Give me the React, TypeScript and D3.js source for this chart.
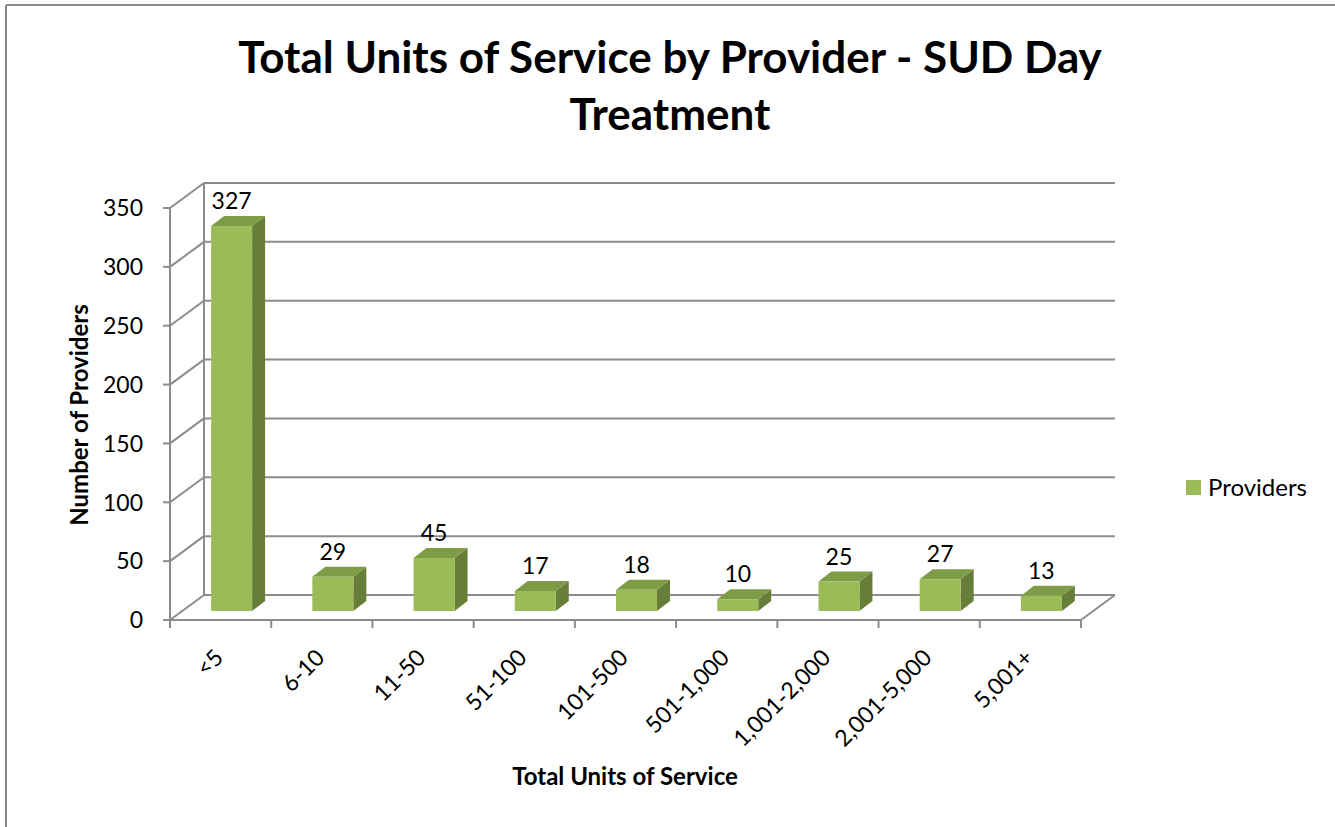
import React from "react";
import * as d3 from "d3";

// data
const categories = [
  "<5",
  "6-10",
  "11-50",
  "51-100",
  "101-500",
  "501-1,000",
  "1,001-2,000",
  "2,001-5,000",
  "5,001+",
];
const providers = [327, 29, 45, 17, 18, 10, 25, 27, 13];
const yTicks = [0, 50, 100, 150, 200, 250, 300, 350];

const W = 1335;
const H = 827;
const FONT = "Lato, 'Open Sans', sans-serif";

// 3d wall depth and bar depth
const wall = { dx: 34, dy: -25 };
const barFront = { dx: 11, dy: -9 };
const barDepth = { dx: 13, dy: -10 };

const GRID = "#8c8c8c";

const App = () => {
  const x = d3.scaleBand<string>().domain(categories).range([170, 1081]);
  const y = d3.scaleLinear().domain([0, 350]).range([620, 208]);
  const bw = x.bandwidth() * 0.405;
  const x0 = x.range()[0];
  const x1 = x.range()[1];

  return (
    <svg
      width={W}
      height={H}
      style={{ position: "absolute", left: 0, top: 0, background: "#fff" }}
      fontFamily={FONT}
    >
      {/* frame */}
      <line x1={6} y1={5} x2={W} y2={5} stroke="#888" strokeWidth={2} />
      <line x1={6} y1={5} x2={6} y2={H} stroke="#888" strokeWidth={2} />

      {/* title */}
      <text x={670} y={73} textAnchor="middle" fontWeight="bold" fontSize={44}>
        Total Units of Service by Provider - SUD Day
      </text>
      <text x={670} y={130} textAnchor="middle" fontWeight="bold" fontSize={44}>
        Treatment
      </text>

      {/* back wall gridlines and side wall diagonals */}
      <g stroke={GRID} strokeWidth={2} fill="none">
        {yTicks.map((t) => (
          <g key={t}>
            <line
              x1={x0 + wall.dx}
              y1={y(t) + wall.dy}
              x2={x1 + wall.dx}
              y2={y(t) + wall.dy}
            />
            <line x1={x0} y1={y(t)} x2={x0 + wall.dx} y2={y(t) + wall.dy} />
            <line x1={x0 - 7} y1={y(t)} x2={x0} y2={y(t)} />
          </g>
        ))}
        <line
          x1={x0 + wall.dx}
          y1={y(350) + wall.dy}
          x2={x0 + wall.dx}
          y2={y(0) + wall.dy}
        />
        <line x1={x0} y1={y(350)} x2={x0} y2={y(0)} />
        {/* floor */}
        <line x1={x0} y1={y(0)} x2={x1} y2={y(0)} />
        <line x1={x1} y1={y(0)} x2={x1 + wall.dx} y2={y(0) + wall.dy} />
        {d3.range(categories.length + 1).map((i) => {
          const tx = x0 + i * x.step();
          return <line key={i} x1={tx} y1={y(0)} x2={tx} y2={y(0) + 8} />;
        })}
      </g>

      {/* y tick labels */}
      {yTicks.map((t) => (
        <text
          key={t}
          x={143}
          y={y(t)}
          dy="0.36em"
          textAnchor="end"
          fontSize={23}
        >
          {t}
        </text>
      ))}

      {/* bars */}
      {categories.map((c, i) => {
        const v = providers[i];
        const cx = (x(c) as number) + x.bandwidth() / 2 + barFront.dx;
        const left = cx - bw / 2;
        const right = cx + bw / 2;
        const bot = y(0) + barFront.dy;
        const top = bot - (y(0) - y(v));
        const { dx, dy } = barDepth;
        return (
          <g key={c}>
            <polygon
              points={`${right},${top} ${right + dx},${top + dy} ${right + dx},${bot + dy} ${right},${bot}`}
              fill="#677e38"
            />
            <polygon
              points={`${left},${top} ${left + dx},${top + dy} ${right + dx},${top + dy} ${right},${top}`}
              fill="#7e9c46"
            />
            <rect x={left} y={top} width={bw} height={bot - top} fill="#9bbb59" />
            <text x={cx} y={top + dy - 7} textAnchor="middle" fontSize={23}>
              {v}
            </text>
          </g>
        );
      })}

      {/* x tick labels */}
      {categories.map((c) => {
        const ax = (x(c) as number) + x.bandwidth() / 2 + 4;
        const ay = 659;
        return (
          <text
            key={c}
            x={ax}
            y={ay}
            textAnchor="end"
            fontSize={23}
            transform={`rotate(-45 ${ax} ${ay})`}
          >
            {c}
          </text>
        );
      })}

      {/* axis titles */}
      <text
        x={0}
        y={0}
        transform="translate(88 415) rotate(-90)"
        textAnchor="middle"
        fontWeight="bold"
        fontSize={24}
      >
        Number of Providers
      </text>
      <text x={625} y={785} textAnchor="middle" fontWeight="bold" fontSize={24}>
        Total Units of Service
      </text>

      {/* legend */}
      <rect x={1186} y={480} width={15} height={15} fill="#9bbb59" />
      <text x={1208} y={496} fontSize={24}>
        Providers
      </text>
    </svg>
  );
};

export default App;
